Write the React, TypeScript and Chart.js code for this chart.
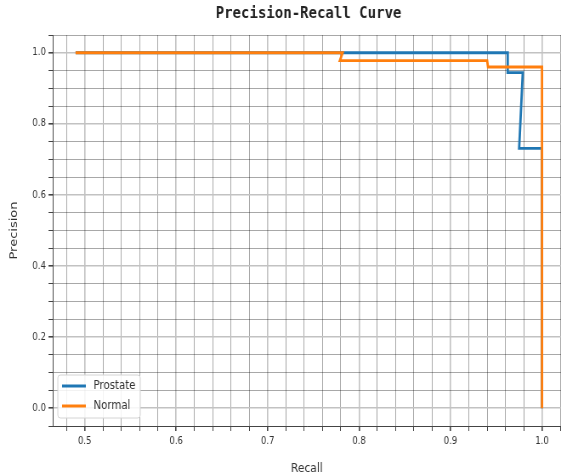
import React, { useEffect, useRef } from "react";
import { Chart, registerables } from "chart.js";

Chart.register(...registerables);

// Precision-recall points for each class, in curve order
const prostateRecall = [0.49, 0.9625, 0.9625, 0.979, 0.975, 1.0, 1.0];
const prostatePrecision = [1.0, 1.0, 0.944, 0.944, 0.731, 0.731, 0.0];
const normalRecall = [0.49, 0.782, 0.779, 0.94, 0.941, 1.0, 1.0];
const normalPrecision = [1.0, 1.0, 0.978, 0.978, 0.96, 0.96, 0.0];

const seriesLabels = ["Prostate", "Normal"];
const seriesColors = ["#1f77b4", "#ff7f0e"];

const titleText = "Precision-Recall Curve";
const xTitle = "Recall";
const yTitle = "Precision";

// Display size and the drawing buffer (text is rendered slightly narrow)
const VIEW_W = 561;
const VIEW_H = 476;
const SQUEEZE = 0.85;
const CANVAS_W = Math.round(VIEW_W / SQUEEZE);

const X_MIN = 0.465;
const X_MAX = 1.0208;
const Y_MIN = -0.05;
const Y_MAX = 1.05;

const MAJOR_GRID = "#c2c2c2";
const MINOR_GRID = "rgba(0,0,0,0.34)";

function stepValues(from: number, to: number, step: number): number[] {
  const out: number[] = [];
  const n = Math.round((to - from) / step);
  for (let i = 0; i <= n; i++) out.push(Math.round((from + i * step) * 1000) / 1000);
  return out;
}

const isMajorX = (v: number) => Math.round(v * 100) % 10 === 0;
const isMajorY = (v: number) =>
  v >= -0.001 && v <= 1.001 && Math.round(v * 100) % 20 === 0;

const plotTitlePlugin = {
  id: "plotTitle",
  afterDraw(chart: any) {
    const { ctx, chartArea } = chart;
    ctx.save();
    ctx.font = "bold 16.5px 'DejaVu Sans Mono'";
    ctx.fillStyle = "#222";
    ctx.textAlign = "center";
    ctx.textBaseline = "middle";
    ctx.fillText(titleText, (chartArea.left + chartArea.right) / 2 + 2, 14);
    ctx.restore();
  },
};

const insideLegendPlugin = {
  id: "insideLegend",
  afterDraw(chart: any) {
    const { ctx, chartArea } = chart;
    const left = chartArea.left + 6;
    const bottom = chartArea.bottom - 8;
    const width = 97;
    const height = 43;
    const top = bottom - height;
    ctx.save();
    ctx.beginPath();
    ctx.roundRect(left, top, width, height, 3);
    ctx.fillStyle = "rgba(255,255,255,0.85)";
    ctx.fill();
    ctx.strokeStyle = "#d4d4d4";
    ctx.lineWidth = 1;
    ctx.stroke();
    ctx.font = "12px 'DejaVu Sans'";
    ctx.textBaseline = "middle";
    ctx.textAlign = "left";
    const datasets = chart.data.datasets;
    datasets.forEach((ds: any, i: number) => {
      const y = top + 11 + i * 20;
      ctx.beginPath();
      ctx.moveTo(left + 5, y);
      ctx.lineTo(left + 33, y);
      ctx.strokeStyle = ds.borderColor;
      ctx.lineWidth = 3;
      ctx.stroke();
      ctx.fillStyle = "#333";
      ctx.fillText(ds.label, left + 42, y);
    });
    ctx.restore();
  },
};

export default function App() {
  const canvasRef = useRef<HTMLCanvasElement | null>(null);

  useEffect(() => {
    const canvas = canvasRef.current;
    if (!canvas) return;

    const toPoints = (xs: number[], ys: number[]) =>
      xs.map((x, i) => ({ x, y: ys[i] }));

    const chart = new Chart(canvas, {
      type: "line",
      data: {
        datasets: [
          {
            label: seriesLabels[0],
            data: toPoints(prostateRecall, prostatePrecision),
            borderColor: seriesColors[0],
            backgroundColor: seriesColors[0],
            borderWidth: 2.8,
            pointRadius: 0,
            tension: 0,
            order: 1,
          },
          {
            label: seriesLabels[1],
            data: toPoints(normalRecall, normalPrecision),
            borderColor: seriesColors[1],
            backgroundColor: seriesColors[1],
            borderWidth: 2.8,
            pointRadius: 0,
            tension: 0,
            order: 0,
          },
        ],
      },
      options: {
        responsive: false,
        animation: false,
        devicePixelRatio: 1,
        layout: { padding: { top: 35, right: 0, left: 0, bottom: 0 } },
        plugins: {
          legend: { display: false },
          title: { display: false },
          tooltip: { enabled: false },
        },
        scales: {
          x: {
            type: "linear",
            min: X_MIN,
            max: X_MAX,
            afterBuildTicks(scale: any) {
              scale.ticks = stepValues(0.48, 1.02, 0.02).map((value) => ({ value }));
            },
            afterFit(scale: any) {
              scale.height = 50;
              scale.paddingLeft = 0;
              scale.paddingRight = 0;
            },
            ticks: {
              autoSkip: false,
              maxRotation: 0,
              padding: 4,
              color: "#333",
              font: { family: "'DejaVu Sans'", size: 10 },
              callback: (v: any) => (isMajorX(Number(v)) ? Number(v).toFixed(1) : ""),
            },
            grid: {
              color: (c: any) => (isMajorX(c.tick.value) ? MAJOR_GRID : MINOR_GRID),
              lineWidth: (c: any) => (isMajorX(c.tick.value) ? 1.6 : 1),
              tickLength: 5,
              tickColor: "#444",
            },
            border: { display: true, color: "#444", width: 1 },
            title: {
              display: true,
              text: xTitle,
              color: "#333",
              font: { family: "'DejaVu Sans'", size: 12.5 },
              padding: { top: 0, bottom: 0 },
            },
          },
          y: {
            type: "linear",
            min: Y_MIN,
            max: Y_MAX,
            afterBuildTicks(scale: any) {
              scale.ticks = stepValues(Y_MIN, Y_MAX, 0.05).map((value) => ({ value }));
            },
            afterFit(scale: any) {
              scale.width = 62;
              scale.paddingTop = 0;
              scale.paddingBottom = 0;
            },
            ticks: {
              autoSkip: false,
              padding: 3,
              color: "#333",
              font: { family: "'DejaVu Sans'", size: 10 },
              callback: (v: any) => (isMajorY(Number(v)) ? Number(v).toFixed(1) : ""),
            },
            grid: {
              color: (c: any) => (isMajorY(c.tick.value) ? MAJOR_GRID : MINOR_GRID),
              lineWidth: (c: any) => (isMajorY(c.tick.value) ? 1.6 : 1),
              tickLength: 5,
              tickColor: "#444",
            },
            border: { display: true, color: "#444", width: 1 },
            title: {
              display: true,
              text: yTitle,
              color: "#333",
              font: { family: "'DejaVu Sans'", size: 13 },
              padding: { top: 9, bottom: 0 },
            },
          },
        },
      },
      plugins: [plotTitlePlugin, insideLegendPlugin],
    });

    return () => chart.destroy();
  }, []);

  return (
    <div style={{ position: "absolute", left: 0, top: 0, width: VIEW_W, height: VIEW_H }}>
      <canvas
        ref={canvasRef}
        width={CANVAS_W}
        height={VIEW_H}
        style={{ width: VIEW_W + "px", height: VIEW_H + "px", display: "block" }}
      />
    </div>
  );
}
